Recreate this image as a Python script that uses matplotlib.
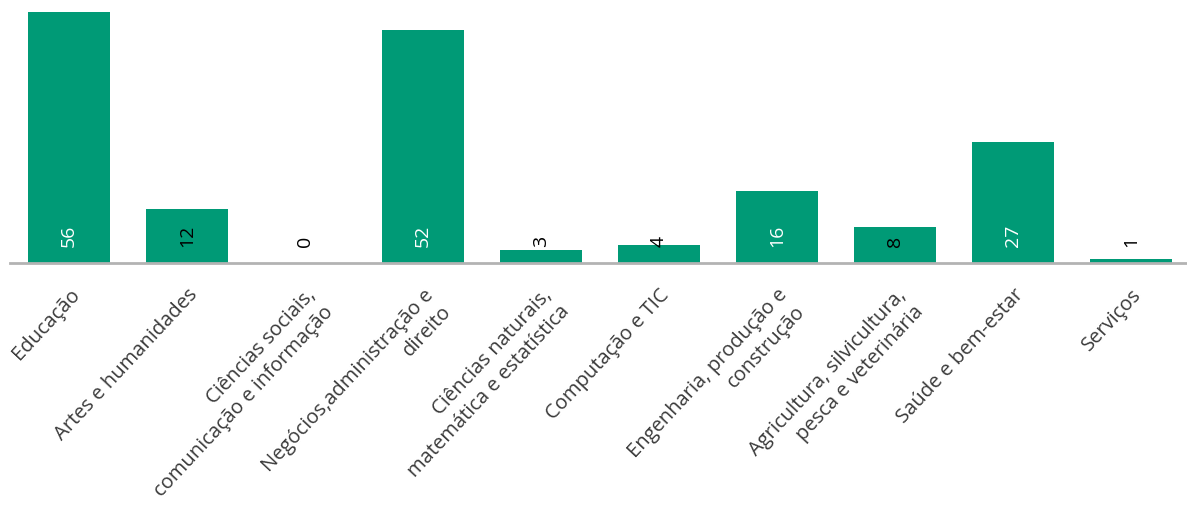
import matplotlib.pyplot as plt

categories = [
    'Educação',
    'Artes e humanidades',
    'Ciências sociais,\ncomunicação e informação',
    'Negócios,administração e\ndireito',
    'Ciências naturais,\nmatemática e estatística',
    'Computação e TIC',
    'Engenharia, produção e\nconstrução',
    'Agricultura, silvicultura,\npesca e veterinária',
    'Saúde e bem-estar',
    'Serviços',
]
values = [56, 12, 0, 52, 3, 4, 16, 8, 27, 1]
label_colors = ['white', 'black', 'black', 'white', 'black',
                'black', 'white', 'black', 'white', 'black']

plt.rcParams['font.family'] = ['Open Sans', 'DejaVu Sans']

fig = plt.figure(figsize=(11.87, 5.12), dpi=100)
ax = fig.add_axes([10 / 1187, 249 / 512, 1180 / 1187, 251 / 512])

x = range(len(values))
ax.bar(x, values, width=0.69, color='#009a76')

for i, v in enumerate(values):
    ax.text(i, 3.6, str(v), rotation=90, ha='center', va='bottom',
            fontsize=14, fontweight='medium', color=label_colors[i])

ax.set_xlim(-0.5, len(values) - 0.5)
ax.set_ylim(0, 56)
ax.set_yticks([])
ax.set_xticks(list(x))
ax.set_xticklabels(categories, rotation=47, ha='right', rotation_mode='anchor',
                   multialignment='right', linespacing=1.3,
                   fontsize=14.5, color='#3a3a3a')
ax.tick_params(axis='x', length=0, pad=16)

for s in ['top', 'right', 'left']:
    ax.spines[s].set_visible(False)
ax.spines['bottom'].set_color('#b3b3b3')
ax.spines['bottom'].set_linewidth(2)

fig.savefig('out.png', dpi=100)
